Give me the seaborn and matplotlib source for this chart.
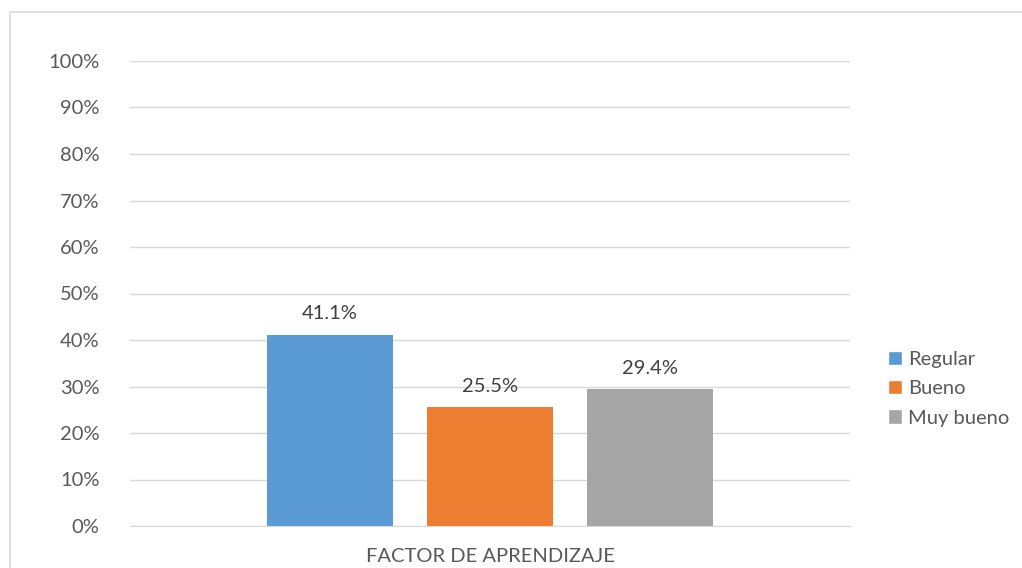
import pandas as pd
import seaborn as sns
import matplotlib.pyplot as plt
from matplotlib.patches import Rectangle, Patch
from matplotlib.ticker import FuncFormatter

# values
factor = ['FACTOR DE APRENDIZAJE'] * 3
niveles = ['Regular', 'Bueno', 'Muy bueno']
porcentajes = [41.1, 25.5, 29.4]
colores = ['#5B9BD5', '#ED7D31', '#A5A5A5']

df = pd.DataFrame({'factor': factor, 'nivel': niveles, 'pct': porcentajes})

sns.set_style('white')
plt.rcParams['font.family'] = ['Lato', 'DejaVu Sans']

fig = plt.figure(figsize=(10.22, 5.68), dpi=100)
ax = fig.add_axes([130 / 1022, 1 - 526 / 568, 720 / 1022, 465 / 568])

sns.barplot(data=df, x='factor', y='pct', hue='nivel', palette=colores,
            width=0.6667, gap=0.2125, ax=ax, legend=False, saturation=1,
            linewidth=0)

ax.set_ylim(0, 100)
ax.set_xlim(-0.5, 0.5)
ax.set_yticks(range(0, 101, 10))
ax.yaxis.set_major_formatter(FuncFormatter(lambda v, p: f'{v:.0f}%'))
ax.grid(axis='y', color='#D9D9D9', linewidth=1)
ax.set_axisbelow(True)
for s in ['top', 'right', 'left']:
    ax.spines[s].set_visible(False)
ax.spines['bottom'].set_color('#D9D9D9')
ax.tick_params(axis='both', length=0, labelsize=14.5, colors='#595959')
ax.tick_params(axis='y', pad=22)
ax.tick_params(axis='x', pad=16)
ax.set_xlabel('')
ax.set_ylabel('')

# data labels
for cont in ax.containers:
    ax.bar_label(cont, fmt='%.1f%%', padding=9, fontsize=14.5, color='#404040')

handles = [Patch(facecolor=c, label=n) for c, n in zip(colores, niveles)]
fig.legend(handles=handles, loc='upper left', bbox_to_anchor=(880 / 1022, 1 - 343 / 568),
           frameon=False, fontsize=14.5, labelcolor='#595959', handlelength=0.7,
           handleheight=0.7, handletextpad=0.3, labelspacing=0.6, borderaxespad=0)

# chart border
fig.patches.append(Rectangle((10 / 1022, -0.1), 1.2, 1 - 12 / 568 + 0.1, transform=fig.transFigure,
                             fill=False, edgecolor='#D9D9D9', linewidth=1.2))

fig.savefig('out.png', dpi=100)
